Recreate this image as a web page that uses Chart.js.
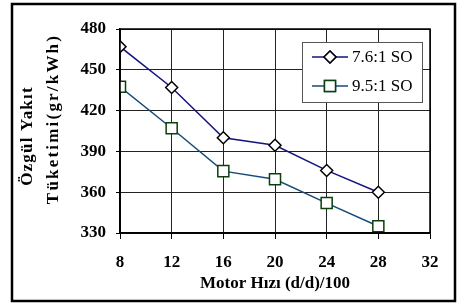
<!DOCTYPE html>
<html><head><meta charset="utf-8">
<script src="https://cdn.jsdelivr.net/npm/chart.js@4/dist/chart.umd.min.js"></script>
<style>html,body{margin:0;padding:0;background:#fff;}#wrap{width:459px;height:304px;}</style>
</head><body><div id="wrap"><canvas id="c" width="459" height="304"></canvas></div>
<script>
const speeds = [8, 12, 16, 20, 24, 28];
const so76 = [467, 437, 400, 394.5, 376, 360];
const so95 = [437.5, 407, 375.5, 369.5, 352, 335];
const seriesNames = ["7.6:1 SO", "9.5:1 SO"];
const xTitle = "Motor Hızı (d/d)/100";
const yTitleLines = ["Özgül Yakıt", "Tüketimi(gr/kWh)"];

const serif = "'Liberation Serif','Times New Roman',serif";
const C1 = "#14147f", C2 = "#174a78", M2 = "#0a400a";

const frame = {
  id: 'frame',
  afterDraw(chart) {
    const ctx = chart.ctx, a = chart.chartArea;
    ctx.save();
    ctx.strokeStyle = '#000'; ctx.lineWidth = 2.5;
    ctx.strokeRect(12, 4, 443, 297);
    ctx.lineWidth = 1.5;
    ctx.strokeRect(a.left, a.top, a.right - a.left, a.bottom - a.top);
    ctx.fillStyle = '#000';
    ctx.font = "bold 17px " + serif;
    ctx.textAlign = 'center'; ctx.textBaseline = 'middle';
    const cy = [136, 119], cx = [28, 54], sp = ['1.2px', '2.2px'];
    for (let i = 0; i < 2; i++) {
      ctx.save();
      ctx.translate(cx[i], cy[i]);
      ctx.rotate(-Math.PI / 2);
      ctx.letterSpacing = sp[i];
      ctx.fillText(yTitleLines[i], 0, 0);
      ctx.restore();
    }
    const lx = 302, ly = 42, lw = 120, lh = 60;
    ctx.fillStyle = '#fff';
    ctx.fillRect(lx, ly, lw, lh);
    ctx.strokeStyle = '#555'; ctx.lineWidth = 1;
    ctx.strokeRect(lx + 0.5, ly + 0.5, lw, lh);
    const rows = [57, 86];
    const ds = chart.data.datasets;
    ctx.font = "17px " + serif;
    ctx.textAlign = 'left';
    for (let i = 0; i < 2; i++) {
      const y = rows[i];
      ctx.strokeStyle = ds[i].borderColor; ctx.lineWidth = 1.5;
      ctx.beginPath(); ctx.moveTo(312, y); ctx.lineTo(348, y); ctx.stroke();
      Chart.helpers.drawPoint(ctx, {
        pointStyle: ds[i].pointStyle, radius: ds[i].pointRadius,
        rotation: 0, borderWidth: ds[i].pointBorderWidth
      }, 330, y);
      ctx.fillStyle = ds[i].pointBackgroundColor;
      ctx.strokeStyle = ds[i].pointBorderColor;
      ctx.lineWidth = ds[i].pointBorderWidth;
      ctx.fill(); ctx.stroke();
      ctx.fillStyle = '#000';
      ctx.fillText(seriesNames[i], 352, y + 1);
    }
    ctx.restore();
  }
};

new Chart(document.getElementById('c'), {
  type: 'line',
  data: {
    datasets: [
      { label: seriesNames[0], data: speeds.map((x, i) => ({x, y: so76[i]})),
        borderColor: C1, borderWidth: 1.5, pointStyle: 'rectRot', pointRadius: 6,
        pointBackgroundColor: '#fff', pointBorderColor: '#000', pointBorderWidth: 1.5, tension: 0 },
      { label: seriesNames[1], data: speeds.map((x, i) => ({x, y: so95[i]})),
        borderColor: C2, borderWidth: 1.5, pointStyle: 'rect', pointRadius: 7.8,
        pointBackgroundColor: '#fff', pointBorderColor: M2, pointBorderWidth: 1.5, tension: 0 }
    ]
  },
  options: {
    responsive: false, animation: false, devicePixelRatio: 1,
    layout: { padding: { left: 0, right: 29, top: 29, bottom: 10 } },
    plugins: { legend: { display: false }, tooltip: { enabled: false } },
    scales: {
      x: {
        type: 'linear', min: 8, max: 32,
        ticks: { stepSize: 4, color: '#000', font: { family: serif, size: 17, weight: 'bold' }, padding: 13, maxRotation: 0 },
        grid: { color: '#222', lineWidth: 1, tickLength: 6, tickColor: '#000' },
        border: { color: '#000', width: 1.5 },
        title: { display: true, text: xTitle, color: '#000', font: { family: serif, size: 17, weight: 'bold' }, padding: { top: 0, bottom: 0 } },
        afterFit(s) { s.height = 61; }
      },
      y: {
        min: 330, max: 480,
        ticks: { stepSize: 30, color: '#000', font: { family: serif, size: 17, weight: 'bold' }, padding: 10 },
        grid: { color: '#222', lineWidth: 1, tickLength: 4, tickColor: '#000' },
        border: { color: '#000', width: 1.5 },
        afterFit(s) { s.width = 120; }
      }
    }
  },
  plugins: [frame]
});
</script></body></html>
